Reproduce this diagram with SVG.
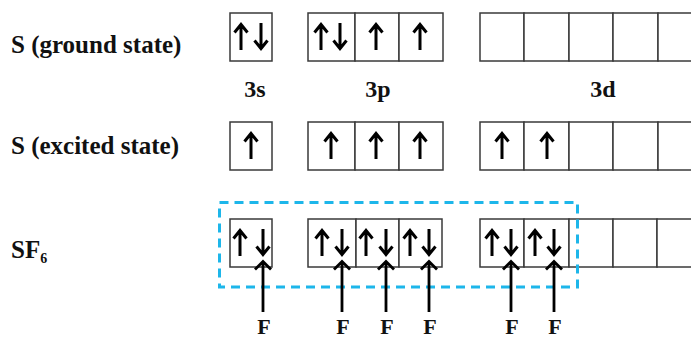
<svg xmlns="http://www.w3.org/2000/svg" xmlns:xlink="http://www.w3.org/1999/xlink" width="691" height="338" viewBox="0 0 691 338">
<style>
text{font-family:'Liberation Serif','Times New Roman','DejaVu Serif',serif;font-weight:700;fill:#111}
.cell{fill:#fff;stroke:#3a3a3a;stroke-width:1.5}
.spin{fill:none;stroke:#000;stroke-width:3;stroke-linecap:butt;stroke-linejoin:miter}
.bond{fill:none;stroke:#000;stroke-width:2.8}
.dash{fill:none;stroke:#1db6ea;stroke-width:3;stroke-dasharray:9 6}
</style>
<defs>
<g id="up"><path class="spin" d="M0,27 V1.5 M-6.5,9.5 L0,1.5 L6.5,9.5"/></g>
<g id="dn"><path class="spin" d="M0,0 V25.5 M-6.5,17.5 L0,25.5 L6.5,17.5"/></g>
</defs>
<rect width="691" height="338" fill="#fff"/>

<g id="labels">
<text x="11" y="53" font-size="25">S (ground state)</text>
<text x="11" y="154" font-size="25">S (excited state)</text>
<text x="11" y="258" font-size="25">SF<tspan font-size="14" dy="5">6</tspan></text>
<text x="255" y="97" font-size="24" text-anchor="middle">3s</text>
<text x="378" y="97" font-size="24" text-anchor="middle">3p</text>
<text x="603" y="97" font-size="24" text-anchor="middle">3d</text>
</g>

<g id="ground">
<rect class="cell" x="230" y="13" width="42" height="48"/>
<rect class="cell" x="308" y="13" width="47" height="48"/>
<rect class="cell" x="355" y="13" width="44" height="48"/>
<rect class="cell" x="399" y="13" width="44" height="48"/>
<rect class="cell" x="480" y="13" width="44" height="48"/>
<rect class="cell" x="524" y="13" width="45" height="48"/>
<rect class="cell" x="569" y="13" width="44" height="48"/>
<rect class="cell" x="613" y="13" width="45" height="48"/>
<rect class="cell" x="658" y="13" width="44" height="48"/>
<use xlink:href="#up" x="241" y="23"/><use xlink:href="#dn" x="261" y="23"/>
<use xlink:href="#up" x="321" y="23"/><use xlink:href="#dn" x="340" y="23"/>
<use xlink:href="#up" x="376" y="23"/>
<use xlink:href="#up" x="420" y="23"/>
</g>

<g id="excited">
<rect class="cell" x="230" y="122" width="42" height="48"/>
<rect class="cell" x="308" y="122" width="47" height="48"/>
<rect class="cell" x="355" y="122" width="44" height="48"/>
<rect class="cell" x="399" y="122" width="44" height="48"/>
<rect class="cell" x="480" y="122" width="44" height="48"/>
<rect class="cell" x="524" y="122" width="45" height="48"/>
<rect class="cell" x="569" y="122" width="44" height="48"/>
<rect class="cell" x="613" y="122" width="45" height="48"/>
<rect class="cell" x="658" y="122" width="44" height="48"/>
<use xlink:href="#up" x="251" y="132"/>
<use xlink:href="#up" x="331" y="132"/>
<use xlink:href="#up" x="376" y="132"/>
<use xlink:href="#up" x="420" y="132"/>
<use xlink:href="#up" x="502" y="132"/>
<use xlink:href="#up" x="547" y="132"/>
</g>

<g id="sf6">
<rect class="cell" x="230" y="219" width="42" height="48"/>
<rect class="cell" x="308" y="219" width="48" height="48"/>
<rect class="cell" x="356" y="219" width="43" height="48"/>
<rect class="cell" x="399" y="219" width="43" height="48"/>
<rect class="cell" x="480" y="219" width="44" height="48"/>
<rect class="cell" x="524" y="219" width="45" height="48"/>
<rect class="cell" x="569" y="219" width="44" height="48"/>
<rect class="cell" x="613" y="219" width="44" height="48"/>
<rect class="cell" x="657" y="219" width="45" height="48"/>
<use xlink:href="#up" x="240" y="229"/><use xlink:href="#dn" x="263" y="229"/>
<use xlink:href="#up" x="322" y="229"/><use xlink:href="#dn" x="342" y="229"/>
<use xlink:href="#up" x="366" y="229"/><use xlink:href="#dn" x="386" y="229"/>
<use xlink:href="#up" x="410" y="229"/><use xlink:href="#dn" x="429" y="229"/>
<use xlink:href="#up" x="492" y="229"/><use xlink:href="#dn" x="511" y="229"/>
<use xlink:href="#up" x="535" y="229"/><use xlink:href="#dn" x="554" y="229"/>
</g>

<g id="hybrid-box">
<rect class="dash" x="219.5" y="202.5" width="358" height="84.5"/>
</g>

<g id="connectors">
<path class="bond" d="M263,312 V261 M255,269.5 L263,261.5 L271,269.5"/>
<path class="bond" d="M342,312 V261 M334,269.5 L342,261.5 L350,269.5"/>
<path class="bond" d="M386,312 V261 M378,269.5 L386,261.5 L394,269.5"/>
<path class="bond" d="M429,312 V261 M421,269.5 L429,261.5 L437,269.5"/>
<path class="bond" d="M511,312 V261 M503,269.5 L511,261.5 L519,269.5"/>
<path class="bond" d="M554,312 V261 M546,269.5 L554,261.5 L562,269.5"/>
</g>

<g id="fluorines">
<text x="264" y="334" font-size="22" text-anchor="middle">F</text>
<text x="343" y="334" font-size="22" text-anchor="middle">F</text>
<text x="387" y="334" font-size="22" text-anchor="middle">F</text>
<text x="430" y="334" font-size="22" text-anchor="middle">F</text>
<text x="512" y="334" font-size="22" text-anchor="middle">F</text>
<text x="555" y="334" font-size="22" text-anchor="middle">F</text>
</g>
</svg>
